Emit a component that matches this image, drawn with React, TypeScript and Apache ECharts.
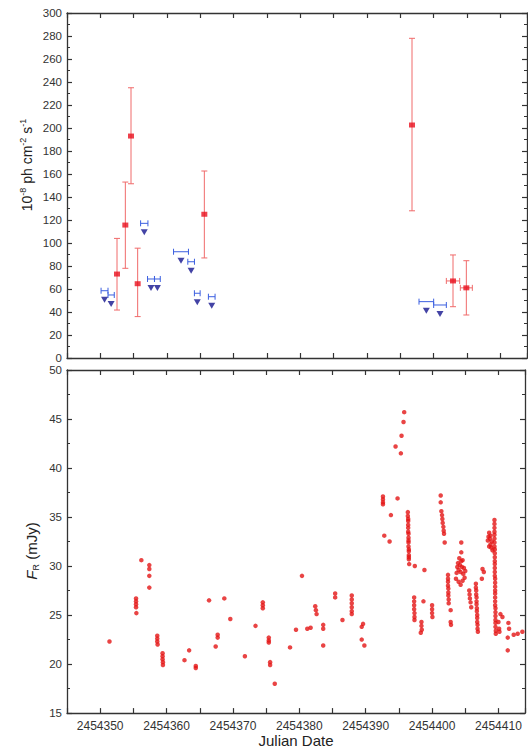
import React, { useEffect, useRef } from "react";
import * as echarts from "echarts";

// ---------- Top panel: gamma-ray flux (10^-8 ph cm^-2 s^-1) ----------
const detJD = [2454352.5, 2454353.75, 2454354.6, 2454355.6, 2454365.6, 2454396.75, 2454402.9, 2454404.9];
const detFlux = [73, 115.6, 193, 64.6, 125, 202.6, 67, 61];
const detLow = [41.7, 78, 151.5, 36, 87, 128, 44.6, 37.4];
const detHigh = [104, 153, 235, 95.5, 162.6, 278, 89.6, 84.6];
const detXErr = [0, 0, 0, 0, 0, 0, 1.0, 0.9];

const ulJD = [2454350.63, 2454351.62, 2454356.59, 2454357.6, 2454358.56, 2454362.1, 2454363.62, 2454364.54, 2454366.71, 2454398.9, 2454400.95];
const ulFlux = [58.5, 54.8, 117.1, 68.7, 68.7, 92.4, 83.7, 56.3, 53.3, 49, 46.1];
const ulXErr = [0.52, 0.47, 0.55, 0.52, 0.43, 1.12, 0.5, 0.43, 0.5, 1.1, 0.95];

// ---------- Bottom panel: R-band flux (mJy), [JD - 2454300, F_R] ----------
const JD0 = 2454300;
const optEarly: number[][] = [
  [51.4, 22.3],
  [55.4, 26.7], [55.4, 26.4], [55.4, 26.1], [55.4, 25.8], [55.45, 25.2],
  [56.2, 30.6],
  [57.4, 30.1], [57.4, 29.7], [57.4, 29.0], [57.4, 27.8],
  [58.6, 22.9], [58.6, 22.6], [58.6, 22.3], [58.65, 22.0],
  [59.4, 21.1], [59.4, 20.8], [59.4, 20.5], [59.45, 20.2], [59.45, 19.9],
  [62.7, 20.4], [63.4, 21.4], [64.4, 19.8], [64.4, 19.6],
  [66.4, 26.5], [67.4, 21.8], [67.7, 23.0], [67.7, 22.7],
  [68.7, 26.7], [69.6, 24.6], [71.8, 20.8], [73.4, 23.9],
  [74.5, 26.3], [74.5, 26.0], [74.5, 25.7],
  [75.4, 22.7], [75.4, 22.4], [75.4, 22.2], [75.6, 20.2], [75.6, 19.9],
  [76.3, 18.0], [78.6, 21.7], [79.5, 23.5], [80.4, 29.0],
  [81.2, 23.6], [81.7, 23.7],
  [82.4, 25.9], [82.5, 25.5], [82.6, 25.1],
  [83.6, 24.0], [83.6, 23.6], [83.6, 21.9],
  [85.4, 27.2], [85.4, 26.8], [86.5, 24.5],
  [87.9, 27.0], [87.9, 26.6], [87.9, 26.2], [87.9, 25.8], [87.9, 25.4], [87.9, 25.1],
  [89.6, 24.1], [89.4, 23.8], [89.4, 22.5], [89.8, 21.9],
];
const optFlare: number[][] = [
  [92.6, 37.1], [92.6, 36.8], [92.6, 36.5], [92.6, 36.3],
  [92.8, 33.1], [93.6, 32.5], [93.8, 35.2], [94.8, 36.9],
  [94.5, 42.2], [95.3, 41.5], [95.4, 43.3], [95.7, 44.7], [95.8, 45.7],
  [96.35, 35.5], [96.35, 35.1], [96.4, 34.8], [96.4, 34.6], [96.4, 34.2], [96.4, 33.9],
  [96.4, 33.5], [96.45, 33.3], [96.45, 32.9], [96.45, 32.6], [96.45, 32.4], [96.45, 32.0],
  [96.5, 31.7], [96.5, 31.5], [96.5, 31.1], [96.5, 30.9], [96.5, 30.7],
  [96.55, 30.2], [97.4, 30.0], [98.85, 29.6],
  [97.3, 26.8], [97.3, 26.4], [97.3, 26.0], [97.3, 25.6], [97.35, 25.2], [97.35, 24.8], [97.35, 24.5],
  [98.7, 26.4],
  [100.0, 26.0], [100.0, 25.6], [100.0, 25.2], [100.05, 24.8],
  [98.4, 24.3], [98.4, 23.9], [98.45, 23.5], [98.3, 23.2],
];
const optLate: number[][] = [
  [101.3, 37.2], [101.3, 36.5], [101.4, 35.6], [101.5, 35.2], [101.55, 34.8], [101.6, 34.4],
  [101.7, 34.0], [101.75, 33.6], [101.8, 33.3], [101.9, 32.4],
  [102.4, 29.1], [102.4, 28.7], [102.4, 28.4], [102.4, 28.0], [102.45, 27.7], [102.45, 27.3],
  [102.45, 27.0], [102.5, 26.6], [102.5, 26.2], [102.8, 25.5], [102.8, 24.3], [102.85, 24.0],
  [104.4, 32.4], [104.4, 31.4],
  [103.6, 28.7], [103.7, 29.3], [103.8, 29.9], [103.9, 30.3], [104.0, 29.6], [104.1, 30.8],
  [104.2, 30.1], [104.3, 29.4], [104.4, 30.5], [104.5, 29.9], [104.6, 30.6], [104.7, 29.2],
  [104.8, 29.8], [104.9, 28.8], [105.0, 29.5], [104.0, 28.4], [104.3, 28.1], [104.6, 28.5],
  [105.6, 27.5], [105.65, 27.1], [105.7, 26.7], [105.8, 26.3], [105.9, 25.8],
  [106.6, 28.2], [106.6, 27.8], [106.65, 27.5], [106.65, 27.1], [106.7, 26.8], [106.7, 26.4],
  [106.7, 26.1], [106.75, 25.7], [106.75, 25.4], [106.8, 25.0], [106.8, 24.7], [106.8, 24.3],
  [106.85, 24.0], [106.85, 23.6], [106.9, 23.3],
  [107.6, 29.7], [107.8, 29.4], [107.5, 28.7],
  [108.4, 32.6], [108.5, 33.0], [108.6, 33.4], [108.7, 32.8], [108.8, 32.2], [108.9, 31.9],
  [109.0, 32.5], [109.1, 31.6], [108.6, 32.0], [108.8, 33.1],
];
const optDecay: number[][] = [
  [109.4, 34.7], [109.4, 34.3], [109.4, 33.9], [109.4, 33.5], [109.4, 33.2], [109.4, 32.8],
  [109.4, 32.4], [109.4, 32.0], [109.45, 31.7], [109.45, 31.3], [109.45, 30.9], [109.45, 30.5],
  [109.45, 30.2], [109.45, 29.8], [109.45, 29.4], [109.45, 29.0], [109.5, 28.7], [109.5, 28.3],
  [109.5, 27.9], [109.5, 27.5], [109.5, 27.2], [109.5, 26.8], [109.5, 26.4], [109.5, 26.0],
  [109.55, 25.7], [109.55, 25.3], [109.55, 24.9], [109.55, 24.5], [109.55, 24.2], [109.55, 23.8],
  [109.6, 23.4], [109.6, 23.1],
  [110.3, 25.1], [110.6, 24.8], [110.0, 24.3], [110.1, 23.6], [110.15, 23.3],
  [111.5, 24.2], [111.6, 23.6], [111.4, 22.7], [111.4, 21.4],
  [112.3, 23.0], [112.9, 23.1], [113.6, 23.3],
];

const xTicksMin = 2454345;
const xTicksMax = 2454414;

const FONT = "Liberation Sans, Arial, sans-serif";
const AXIS_COLOR = "#333";

export default function App() {
  const ref = useRef<HTMLDivElement>(null);
  useEffect(() => {
    if (!ref.current) return;
    const chart = echarts.init(ref.current, undefined, { renderer: "svg" });

    const detData = detJD.map((x, i) => [x, detFlux[i], x - detXErr[i], x + detXErr[i], detLow[i], detHigh[i]]);
    const ulData = ulJD.map((x, i) => [x, ulFlux[i], x - ulXErr[i], x + ulXErr[i]]);
    const optData = [...optEarly, ...optFlare, ...optLate, ...optDecay].map((p) => [JD0 + p[0], p[1]]);

    const xBase = (gridIndex: number, position: string, showLabel: boolean) => ({
      type: "value",
      gridIndex,
      position,
      min: xTicksMin,
      max: xTicksMax,
      interval: 5,
      axisLine: { show: true, onZero: false, lineStyle: { color: AXIS_COLOR, width: 1.3 } },
      axisTick: { show: true, inside: true, length: 5, lineStyle: { color: AXIS_COLOR, width: 1.2 } },
      axisLabel: {
        show: showLabel,
        color: "#333",
        fontFamily: FONT,
        fontSize: 12,
        margin: 7,
        formatter: (v: number) => (Math.round(v) % 10 === 0 ? String(Math.round(v)) : ""),
      },
      splitLine: { show: false },
    });

    const yBase = (gridIndex: number, position: string, min: number, max: number, interval: number, showLabel: boolean) => ({
      type: "value",
      gridIndex,
      position,
      min,
      max,
      interval,
      axisLine: { show: true, onZero: false, lineStyle: { color: AXIS_COLOR, width: 1.3 } },
      axisTick: { show: true, inside: true, length: 5, lineStyle: { color: AXIS_COLOR, width: 1.2 } },
      minorTick: { show: true, splitNumber: 2, length: 3, lineStyle: { color: AXIS_COLOR, width: 1 } },
      axisLabel: { show: showLabel, color: "#333", fontFamily: FONT, fontSize: 11.5, lineHeight: 10, margin: 5 },
      splitLine: { show: false },
    });

    const errColor = "#f06a6a";
    const ulColor = "#3b5fe0";

    chart.setOption({
      animation: false,
      backgroundColor: "#fff",
      grid: [
        { left: 67, top: 13, width: 460, height: 345 },
        { left: 67, top: 370, width: 460, height: 344 },
      ],
      xAxis: [
        xBase(0, "bottom", false),
        xBase(0, "top", false),
        {
          ...xBase(1, "bottom", true),
          name: "Julian Date",
          nameLocation: "middle",
          nameGap: 19,
          nameTextStyle: { fontFamily: FONT, fontSize: 15, color: "#222" },
        },
        xBase(1, "top", false),
      ],
      yAxis: [
        yBase(0, "left", 0, 300, 20, true),
        yBase(0, "right", 0, 300, 20, false),
        yBase(1, "left", 15, 50, 5, true),
        yBase(1, "right", 15, 50, 5, false),
      ],
      graphic: [
        {
          type: "text",
          x: 27,
          y: 165,
          rotation: Math.PI / 2,
          style: {
            text: "{n|10}{s|-8}{n| ph cm}{s|-2}{n| s}{s|-1}",
            align: "center",
            verticalAlign: "middle",
            textAlign: "center",
            textVerticalAlign: "middle",
            fill: "#222",
            rich: {
              n: { fontSize: 14, fontFamily: FONT, fill: "#222", lineHeight: 18 },
              s: { fontSize: 9, fontFamily: FONT, fill: "#222", verticalAlign: "top", lineHeight: 10 },
            },
          },
        },
        {
          type: "text",
          x: 31,
          y: 551,
          rotation: Math.PI / 2,
          style: {
            text: "{f|F}{r|R}{n| (mJy)}",
            align: "center",
            verticalAlign: "middle",
            textAlign: "center",
            textVerticalAlign: "middle",
            fill: "#222",
            rich: {
              f: { fontSize: 15, fontStyle: "italic", fontFamily: FONT, fill: "#222", lineHeight: 18 },
              r: { fontSize: 9, fontFamily: FONT, fill: "#222", verticalAlign: "bottom", lineHeight: 10 },
              n: { fontSize: 15, fontFamily: FONT, fill: "#222", lineHeight: 18 },
            },
          },
        },
      ],
      series: [
        {
          type: "custom",
          xAxisIndex: 0,
          yAxisIndex: 0,
          data: detData,
          encode: { x: 0, y: 1 },
          renderItem: (params: any, api: any) => {
            const x = api.value(0);
            const y = api.value(1);
            const xl = api.value(2);
            const xh = api.value(3);
            const yl = api.value(4);
            const yh = api.value(5);
            const pLo = api.coord([x, yl]);
            const pHi = api.coord([x, yh]);
            const st = { stroke: errColor, lineWidth: 1 };
            const children: any[] = [
              { type: "line", shape: { x1: pLo[0], y1: pLo[1], x2: pHi[0], y2: pHi[1] }, style: st },
              { type: "line", shape: { x1: pLo[0] - 3, y1: pLo[1], x2: pLo[0] + 3, y2: pLo[1] }, style: st },
              { type: "line", shape: { x1: pHi[0] - 3, y1: pHi[1], x2: pHi[0] + 3, y2: pHi[1] }, style: st },
            ];
            if (xh > xl) {
              const pL = api.coord([xl, y]);
              const pR = api.coord([xh, y]);
              children.push(
                { type: "line", shape: { x1: pL[0], y1: pL[1], x2: pR[0], y2: pR[1] }, style: st },
                { type: "line", shape: { x1: pL[0], y1: pL[1] - 3, x2: pL[0], y2: pL[1] + 3 }, style: st },
                { type: "line", shape: { x1: pR[0], y1: pR[1] - 3, x2: pR[0], y2: pR[1] + 3 }, style: st }
              );
            }
            return { type: "group", children };
          },
          z: 2,
        },
        {
          type: "scatter",
          xAxisIndex: 0,
          yAxisIndex: 0,
          data: detJD.map((x, i) => [x, detFlux[i]]),
          symbol: "rect",
          symbolSize: [6, 5],
          itemStyle: { color: "#e8101e" },
          z: 3,
        },
        {
          type: "custom",
          xAxisIndex: 0,
          yAxisIndex: 0,
          data: ulData,
          encode: { x: 0, y: 1 },
          renderItem: (params: any, api: any) => {
            const y = api.value(1);
            const pL = api.coord([api.value(2), y]);
            const pR = api.coord([api.value(3), y]);
            const st = { stroke: ulColor, lineWidth: 1 };
            return {
              type: "group",
              children: [
                { type: "line", shape: { x1: pL[0], y1: pL[1], x2: pR[0], y2: pR[1] }, style: st },
                { type: "line", shape: { x1: pL[0], y1: pL[1] - 3, x2: pL[0], y2: pL[1] + 3 }, style: st },
                { type: "line", shape: { x1: pR[0], y1: pR[1] - 3, x2: pR[0], y2: pR[1] + 3 }, style: st },
              ],
            };
          },
          z: 2,
        },
        {
          type: "scatter",
          xAxisIndex: 0,
          yAxisIndex: 0,
          data: ulJD.map((x, i) => [x, ulFlux[i]]),
          symbol: "triangle",
          symbolRotate: 180,
          symbolSize: [7, 6],
          symbolOffset: [0, 9],
          itemStyle: { color: "#14148f" },
          z: 3,
        },
        {
          type: "scatter",
          xAxisIndex: 2,
          yAxisIndex: 2,
          data: optData,
          symbol: "circle",
          symbolSize: 4.5,
          itemStyle: { color: "#e31515" },
          z: 3,
        },
      ],
    });

    return () => chart.dispose();
  }, []);

  return <div ref={ref} style={{ width: 528, height: 749, position: "absolute", left: 0, top: 0 }} />;
}
